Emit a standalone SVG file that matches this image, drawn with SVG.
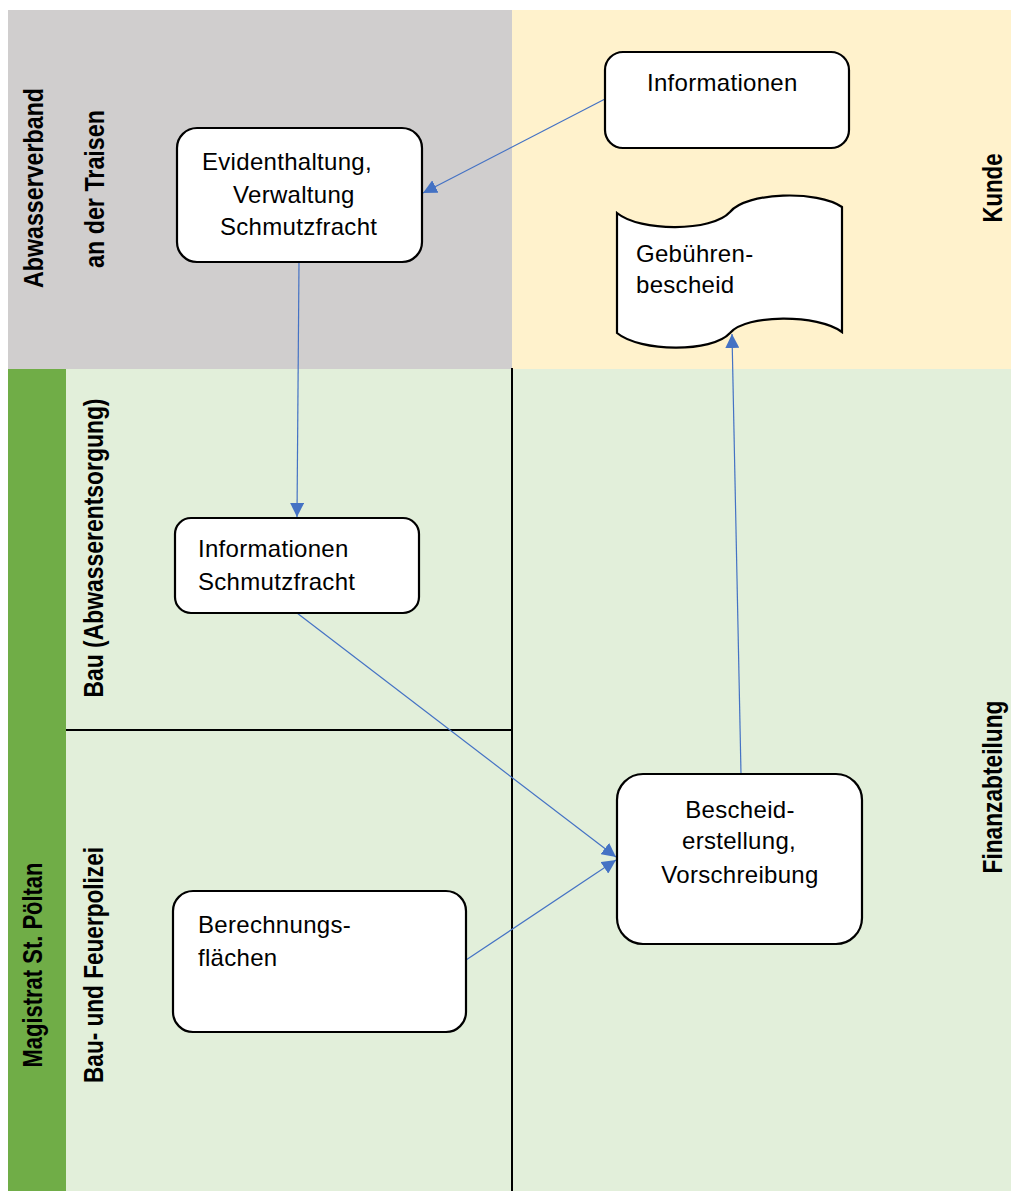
<svg xmlns="http://www.w3.org/2000/svg" width="1011" height="1191" viewBox="0 0 1011 1191">
  <defs>
    <marker id="arr" markerUnits="userSpaceOnUse" markerWidth="15" markerHeight="14" refX="14" refY="7" orient="auto">
      <path d="M0,0 L14,7 L0,14 Z" fill="#4472C4"/>
    </marker>
    <style>
      .lane { font-family: "Liberation Sans", Arial, sans-serif; font-weight: bold; font-size: 27px; fill: #000; }
      .box { fill: #fff; stroke: #000; stroke-width: 2.2; }
      .txt { font-family: "Liberation Sans", Arial, sans-serif; font-size: 24px; letter-spacing: 0.3px; fill: #000; }
      .con { fill: none; stroke: #4472C4; stroke-width: 1.2; marker-end: url(#arr); }
      .sep { stroke: #000; stroke-width: 2; }
    </style>
  </defs>

  <rect x="0" y="0" width="1011" height="1191" fill="#fff"/>

  <g id="lanes">
    <rect x="8" y="10" width="504" height="359" fill="#D0CECE"/>
    <rect x="512" y="10" width="499" height="359" fill="#FFF2CC"/>
    <rect x="8" y="369" width="1003" height="822" fill="#E2EFDA"/>
    <rect x="8" y="369" width="58" height="822" fill="#70AD47"/>
    <line class="sep" x1="512" y1="368" x2="512" y2="1191"/>
    <line class="sep" x1="66" y1="730" x2="512" y2="730"/>
  </g>

  <g id="lane-labels">
    <text class="lane" transform="translate(43,188) rotate(-90)" text-anchor="middle" textLength="200" lengthAdjust="spacingAndGlyphs">Abwasserverband</text>
    <text class="lane" transform="translate(104,189) rotate(-90)" text-anchor="middle" textLength="158" lengthAdjust="spacingAndGlyphs">an der Traisen</text>
    <text class="lane" transform="translate(1002,188) rotate(-90)" text-anchor="middle" textLength="69" lengthAdjust="spacingAndGlyphs">Kunde</text>
    <text class="lane" transform="translate(1002,787) rotate(-90)" text-anchor="middle" textLength="173" lengthAdjust="spacingAndGlyphs">Finanzabteilung</text>
    <text class="lane" transform="translate(103,548) rotate(-90)" text-anchor="middle" textLength="299" lengthAdjust="spacingAndGlyphs">Bau (Abwasserentsorgung)</text>
    <text class="lane" transform="translate(42,965) rotate(-90)" text-anchor="middle" textLength="205" lengthAdjust="spacingAndGlyphs">Magistrat St. Pöltan</text>
    <text class="lane" transform="translate(103,965) rotate(-90)" text-anchor="middle" textLength="236" lengthAdjust="spacingAndGlyphs">Bau- und Feuerpolizei</text>
  </g>

  <g id="connectors">
    <line class="con" x1="605" y1="99" x2="423" y2="193"/>
    <line class="con" x1="299" y1="262" x2="297" y2="517"/>
    <line class="con" x1="297" y1="613" x2="616" y2="857"/>
    <line class="con" x1="466" y1="960" x2="616" y2="860"/>
    <line class="con" x1="741" y1="774" x2="732" y2="334"/>
  </g>

  <g id="n-informationen">
    <rect class="box" x="605" y="52" width="244" height="96" rx="18"/>
    <text class="txt" x="647" y="91">Informationen</text>
  </g>

  <g id="n-evidenthaltung">
    <rect class="box" x="177" y="128" width="245" height="134" rx="20"/>
    <text class="txt" x="202" y="170">Evidenthaltung,</text>
    <text class="txt" x="233" y="203">Verwaltung</text>
    <text class="txt" x="220" y="235">Schmutzfracht</text>
  </g>

  <g id="n-gebuehrenbescheid">
    <path class="box" d="M617,213 C640,232 712,232 730,212 C746,192 818,190 842,207 L842,332 C818,314 746,314 730,333 C712,353 640,352 617,333 Z"/>
    <text class="txt" x="636" y="262">Gebühren-</text>
    <text class="txt" x="636" y="293">bescheid</text>
  </g>

  <g id="n-info-schmutzfracht">
    <rect class="box" x="175" y="518" width="244" height="95" rx="16"/>
    <text class="txt" x="198" y="557">Informationen</text>
    <text class="txt" x="198" y="590">Schmutzfracht</text>
  </g>

  <g id="n-berechnungsflaechen">
    <rect class="box" x="173" y="891" width="293" height="141" rx="20"/>
    <text class="txt" x="198" y="933">Berechnungs-</text>
    <text class="txt" x="198" y="966">flächen</text>
  </g>

  <g id="n-bescheiderstellung">
    <rect class="box" x="617" y="774" width="245" height="170" rx="26"/>
    <text class="txt" x="740" y="818" text-anchor="middle">Bescheid-</text>
    <text class="txt" x="739" y="849" text-anchor="middle">erstellung,</text>
    <text class="txt" x="740" y="883" text-anchor="middle">Vorschreibung</text>
  </g>
</svg>
